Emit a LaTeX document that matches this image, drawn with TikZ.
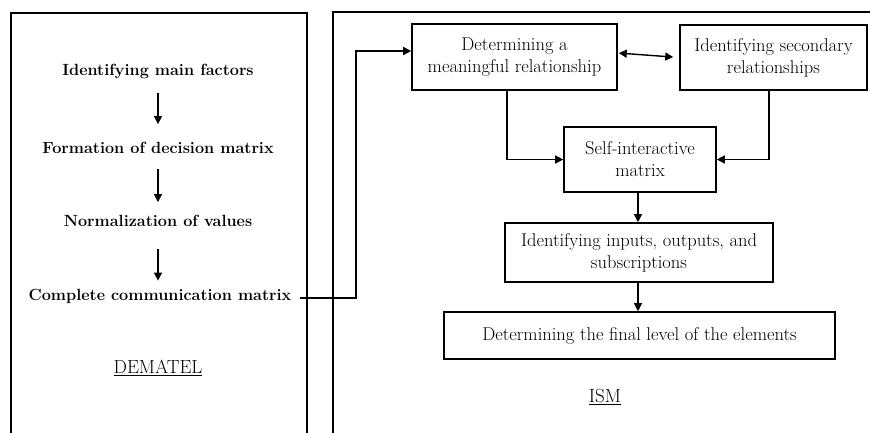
\documentclass[tikz,border=0pt]{standalone}
\usetikzlibrary{arrows.meta,calc}
\begin{document}
\begin{tikzpicture}[x=1pt,y=-1pt,
  arr/.style={-{Triangle[length=8pt,width=8pt]},line width=1.4pt},
  darr/.style={{Triangle[length=8pt,width=8pt]}-{Triangle[length=8pt,width=8pt]},line width=1.4pt},
  outer/.style={draw,line width=1.6pt},
  stepbox/.style={draw,line width=1.6pt,inner sep=0pt,align=center,font=\fontsize{18.5}{22}\selectfont},
  demtext/.style={inner sep=2pt,font=\fontsize{16.2}{19}\selectfont\bfseries},
  label/.style={inner sep=0pt,font=\fontsize{19}{22}\selectfont}]
\useasboundingbox (0,0) rectangle (870,432);
\clip (0,0) rectangle (870,432);
\fill[white] (0,0) rectangle (870,432);
% outer frames
\draw[outer] (11,13) rectangle (307,445);
\draw[outer] (333,12) rectangle (885,445);
% DEMATEL side
\node[demtext] (f1) at (158,71) {Identifying main factors};
\node[demtext] (f2) at (158,148) {Formation of decision matrix};
\node[demtext] (f3) at (158,221) {Normalization of values};
\node[demtext] (f4) at (160,296) {Complete communication matrix};
\node[label] (dem) at (158,368) {\underline{DEMATEL}};
\draw[arr,shorten <=12pt,shorten >=16pt] (f1.south) -- (f1.south |- f2.north);
\draw[arr,shorten <=13pt,shorten >=11pt] (f2.south) -- (f2.south |- f3.north);
\draw[arr,shorten <=20pt,shorten >=6pt] (f3.south) -- (f3.south |- f4.north);
% ISM side
\node[stepbox,minimum width=205pt,minimum height=66pt] (det) at (514.5,57) {Determining a\\meaningful relationship};
\node[stepbox,minimum width=187pt,minimum height=65pt] (sec) at (773.5,57.5) {Identifying secondary\\relationships};
\node[stepbox,minimum width=152pt,minimum height=65pt] (self) at (640,159.5) {Self-interactive\\matrix};
\node[stepbox,minimum width=268pt,minimum height=59pt] (inp) at (639,252.5) {Identifying inputs, outputs, and\\subscriptions};
\node[stepbox,minimum width=391pt,minimum height=47pt] (fin) at (639.5,335.5) {Determining the final level of the elements};
\node[label] (ism) at (605,397) {\underline{ISM}};
\coordinate (c1) at (356,298);
\draw[arr] ([xshift=6pt,yshift=-2pt]f4.east) -- ([yshift=-2pt]f4.east -| c1) |- ([yshift=6pt]det.west);
\draw[darr,shorten <=1pt,shorten >=6pt] ([yshift=4pt]det.east) -- (sec.west);
\draw[arr] ([xshift=-7.5pt]det.south) |- (self.west);
\draw[arr] ([xshift=-4.5pt]sec.south) |- (self.east);
\draw[arr,line width=1.1pt] ([xshift=-2pt]self.south) -- ([xshift=-2pt]self.south |- inp.north);
\draw[arr,line width=1.1pt] ([xshift=-1pt]inp.south) -- ([xshift=-1pt]inp.south |- fin.north);
\end{tikzpicture}
\end{document}
